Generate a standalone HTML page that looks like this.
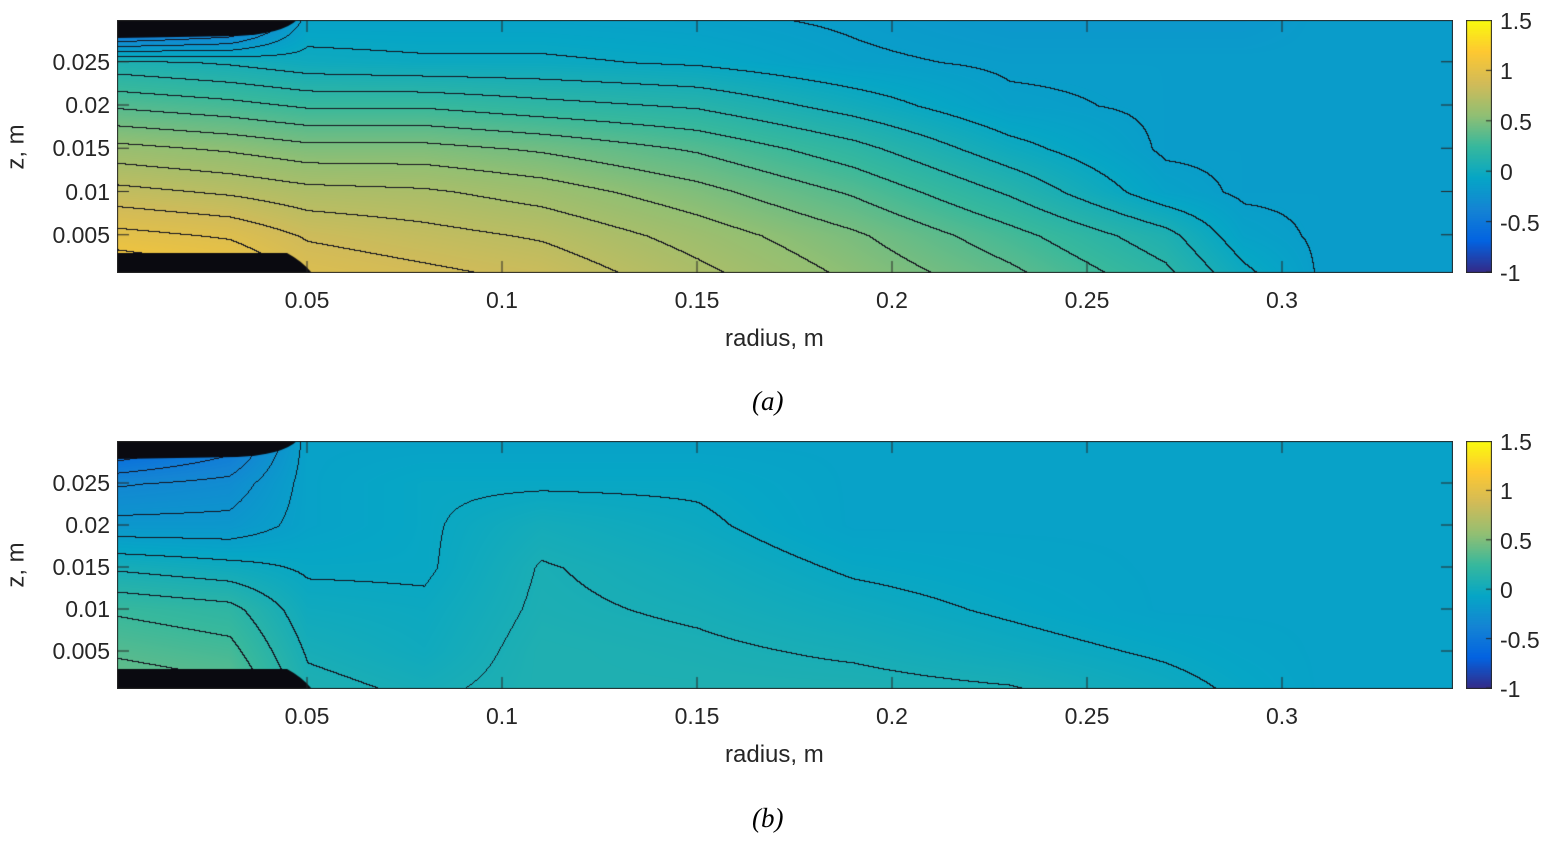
<!DOCTYPE html>
<html><head><meta charset="utf-8"><style>
body{margin:0;background:#fff;width:1555px;height:851px;overflow:hidden;font-family:"Liberation Sans",sans-serif;}
.t{position:absolute;font-size:23px;color:#262626;white-space:nowrap}
.cap{position:absolute;font-family:"Liberation Serif",serif;font-style:italic;font-size:27px}
canvas{position:absolute}
.blk{position:absolute;background:#0a0a0f}
</style></head><body>
<div id="root"></div>
<script>
const rCols=[0.0,0.03,0.05,0.08,0.11,0.15,0.19,0.23,0.27,0.29,0.31,0.345];
const zRows=[0,0.005,0.01,0.015,0.02,0.025,0.03];
const fieldA=[
[1.2,1.1,0.95,0.9,0.85,0.7,0.55,0.4,0.2,0.0,-0.15,-0.15],
[1.0,0.95,0.85,0.8,0.75,0.62,0.48,0.3,0.1,-0.1,-0.15,-0.15],
[0.8,0.75,0.7,0.68,0.62,0.5,0.35,0.15,-0.1,-0.15,-0.15,-0.15],
[0.6,0.55,0.5,0.5,0.45,0.35,0.2,0.0,-0.15,-0.15,-0.15,-0.15],
[0.35,0.3,0.25,0.25,0.2,0.15,0.02,-0.12,-0.15,-0.15,-0.15,-0.15],
[0.1,0.05,0.0,-0.02,-0.02,-0.05,-0.12,-0.15,-0.15,-0.15,-0.15,-0.15],
[-0.8,-0.6,-0.1,-0.1,-0.1,-0.12,-0.15,-0.2,-0.2,-0.2,-0.15,-0.15]];
const fieldB=[
[0.45,0.4,0.1,0.05,0.1,0.1,0.1,0.08,0.0,-0.05,-0.1,-0.1],
[0.35,0.3,0.05,0.0,0.1,0.08,0.05,0.0,-0.05,-0.08,-0.1,-0.1],
[0.25,0.2,0.0,-0.02,0.08,0.05,0.0,-0.05,-0.1,-0.1,-0.1,-0.1],
[0.05,0.0,-0.05,-0.05,0.07,0.02,-0.05,-0.08,-0.1,-0.1,-0.1,-0.1],
[-0.2,-0.2,-0.1,-0.05,0.03,-0.02,-0.1,-0.1,-0.1,-0.1,-0.1,-0.1],
[-0.35,-0.3,-0.1,-0.05,-0.05,-0.05,-0.1,-0.1,-0.1,-0.1,-0.1,-0.1],
[-0.7,-0.5,-0.1,-0.1,-0.1,-0.1,-0.1,-0.1,-0.1,-0.1,-0.1,-0.1]];
const xTicks=[0.05,0.1,0.15,0.2,0.25,0.3];
const xTickLabels=["0.05","0.1","0.15","0.2","0.25","0.3"];
const yTicks=[0.005,0.01,0.015,0.02,0.025];
const yTickLabels=["0.005","0.01","0.015","0.02","0.025"];
const cTicks=[1.5,1,0.5,0,-0.5,-1];
const cTickLabels=["1.5","1","0.5","0","-0.5","-1"];
const parula=[[53,42,135],[3,99,225],[20,132,212],[6,166,198],[55,184,157],[146,191,115],[210,187,88],[254,200,50],[249,251,14]];
function cmap(v){let f=(v+1)/2.5;f=Math.max(0,Math.min(1,f))*(parula.length-1);const i=Math.min(parula.length-2,Math.floor(f)),t=f-i;
return parula[i].map((c,k)=>Math.round(c+(parula[i+1][k]-c)*t));}
function interp(F,r,z){let i=0;while(i<rCols.length-2&&r>rCols[i+1])i++;let j=0;while(j<zRows.length-2&&z>zRows[j+1])j++;
const tx=Math.max(0,Math.min(1,(r-rCols[i])/(rCols[i+1]-rCols[i]))),ty=Math.max(0,Math.min(1,(z-zRows[j])/(zRows[j+1]-zRows[j])));
return (F[j][i]*(1-tx)+F[j][i+1]*tx)*(1-ty)+(F[j+1][i]*(1-tx)+F[j+1][i+1]*tx)*ty;}
const root=document.getElementById('root');
const X0=112,XS=3900,PL=117,PR=1453;
function xs(r){return X0+r*XS;}
function panel(name,F,top,bot,y0,ys,capY,cap){
  const W=PR-PL,H=bot-top;
  const cv=document.createElement('canvas');cv.width=W;cv.height=H;cv.style.left=PL+'px';cv.style.top=top+'px';
  
  
  root.appendChild(cv);
  const ctx=cv.getContext('2d');const img=ctx.createImageData(W,H);
  const band=new Int16Array(W*H);const vals=new Float32Array(W*H);
  for(let y=0;y<H;y++)for(let x=0;x<W;x++){const r=(PL+x-X0)/XS,z=(y0-(top+y))/ys;const v=interp(F,r,z);vals[y*W+x]=v;band[y*W+x]=Math.floor((v+0.037)/0.1);}
  for(let y=0;y<H;y++)for(let x=0;x<W;x++){const k=y*W+x;let c=cmap(vals[k]);
    if((x>0&&band[k]!==band[k-1])||(y>0&&band[k]!==band[k-W]))c=[20,20,30];
    img.data[k*4]=c[0];img.data[k*4+1]=c[1];img.data[k*4+2]=c[2];img.data[k*4+3]=255;}
  ctx.putImageData(img,0,0);
  // dense-contour black patches at left corners
  ctx.fillStyle='#0a0a10';
  ctx.beginPath();ctx.moveTo(0,H-20);ctx.lineTo(170,H-20);ctx.quadraticCurveTo(185,H-12,195,H);ctx.lineTo(0,H);ctx.fill();
  ctx.beginPath();ctx.moveTo(0,0);ctx.lineTo(180,0);ctx.quadraticCurveTo(165,14,120,16);ctx.lineTo(0,18);ctx.fill();
  ctx.strokeStyle='#262626';ctx.lineWidth=1;ctx.strokeRect(0.5,0.5,W-1,H-1);
  xTicks.forEach((t,i)=>{const px=xs(t);ctx.beginPath();ctx.moveTo(px-PL,H);ctx.lineTo(px-PL,H-12);ctx.moveTo(px-PL,0);ctx.lineTo(px-PL,12);ctx.stroke();
    const d=document.createElement('div');d.className='t';d.textContent=xTickLabels[i];d.style.left=(px-30)+'px';d.style.width='60px';d.style.textAlign='center';d.style.top=(bot+14)+'px';
    
    root.appendChild(d);});
  yTicks.forEach((t,i)=>{const py=y0-t*ys;ctx.beginPath();ctx.moveTo(0,py-top);ctx.lineTo(12,py-top);ctx.moveTo(W,py-top);ctx.lineTo(W-12,py-top);ctx.stroke();
    const d=document.createElement('div');d.className='t';d.textContent=yTickLabels[i];d.style.right=(1555-110)+'px';d.style.top=(py-13)+'px';
    
    root.appendChild(d);});
  const xl=document.createElement('div');xl.className='t';xl.style.fontSize='24px';xl.textContent='radius, m';xl.style.left='725px';xl.style.top=(bot+52)+'px';
  
  root.appendChild(xl);
  const yl=document.createElement('div');yl.className='t';yl.style.fontSize='24px';yl.textContent='z, m';yl.style.left='-6px';yl.style.top=((top+bot)/2-14)+'px';yl.style.transform='rotate(-90deg)';
  
  root.appendChild(yl);
  const cb=document.createElement('canvas');cb.width=26;cb.height=H;cb.style.left='1466px';cb.style.top=top+'px';
  
  root.appendChild(cb);
  const c2=cb.getContext('2d');for(let y=0;y<H;y++){const v=1.5-2.5*y/(H-1);const c=cmap(v);c2.fillStyle=`rgb(${c})`;c2.fillRect(0,y,26,1);}
  c2.strokeStyle='#262626';c2.strokeRect(0.5,0.5,25,H-1);
  cTicks.forEach((t,i)=>{const py=top+(1.5-t)/2.5*(H-1);c2.beginPath();c2.moveTo(20,py-top);c2.lineTo(26,py-top);c2.stroke();
    const d=document.createElement('div');d.className='t';d.textContent=cTickLabels[i];d.style.left='1500px';d.style.top=(py-12)+'px';
    
    root.appendChild(d);});
  const c=document.createElement('div');c.className='cap';c.textContent=cap;c.style.left='752px';c.style.top=capY+'px';
  
  root.appendChild(c);
}
panel('panel-a',fieldA,20,273,278,8650,386,'(a)');
panel('panel-b',fieldB,441,689,693,8400,803,'(b)');
</script>
</body></html>
